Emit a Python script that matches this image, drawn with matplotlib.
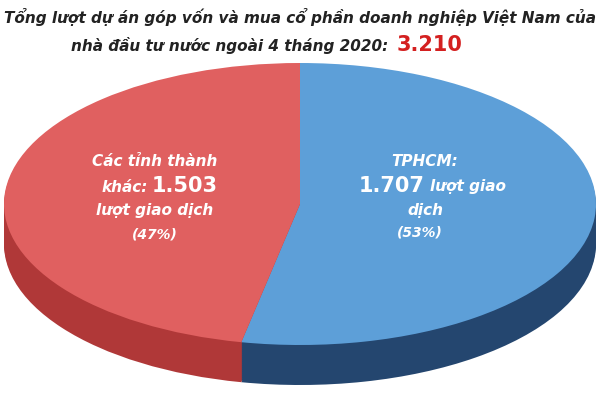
import matplotlib
matplotlib.use("Agg")
import matplotlib.pyplot as plt
from matplotlib.transforms import Affine2D

labels = ["TPHCM", "Các tỉnh thành khác"]
counts = [1707, 1503]
shares = [53, 47]
top_colors = ["#5d9fd8", "#e06060"]
side_colors = ["#24466f", "#b03838"]

fig = plt.figure(figsize=(6, 4), dpi=100)
ax = fig.add_axes([0, 0, 1, 1])

cx, cy, rx, ry, depth = 300, 196, 296, 141, 40

# side (depth) layers, then the top face
for off in list(range(depth, 0, -2)) + [0]:
    cols = top_colors if off == 0 else side_colors
    wedges, _ = ax.pie(counts, colors=cols, startangle=90, counterclock=False,
                       wedgeprops=dict(linewidth=0))
    tr = Affine2D().scale(rx, ry).translate(cx, cy - off) + ax.transData
    for w in wedges:
        w.set_transform(tr)
ax.set_xlim(0, 600)
ax.set_ylim(0, 400)
ax.set_aspect("auto")
ax.axis("off")

tkw = dict(color="white", fontweight="bold", style="italic", va="center")
ax.text(425, 238, "TPHCM:", fontsize=11, ha="center", **tkw)
ax.text(392, 214, f"{counts[0]/1000:.3f}", fontsize=15, ha="center",
        color="white", fontweight="bold", va="center")
ax.text(468, 213, "lượt giao", fontsize=11, ha="center", **tkw)
ax.text(425, 190, "dịch", fontsize=11, ha="center", **tkw)
ax.text(420, 167, f"({shares[0]}%)", fontsize=10, ha="center", **tkw)

ax.text(155, 238, "Các tỉnh thành", fontsize=11, ha="center", **tkw)
ax.text(148, 213, "khác:", fontsize=11, ha="right", **tkw)
ax.text(152, 214, f"{counts[1]/1000:.3f}", fontsize=15, ha="left",
        color="white", fontweight="bold", va="center")
ax.text(155, 189, "lượt giao dịch", fontsize=11, ha="center", **tkw)
ax.text(155, 166, f"({shares[1]}%)", fontsize=10, ha="center", **tkw)

ax.text(300, 383, "Tổng lượt dự án góp vốn và mua cổ phần doanh nghiệp Việt Nam của",
        fontsize=11, style="italic", fontweight="bold", color="#222222", ha="center", va="center")
ax.text(388, 354, "nhà đầu tư nước ngoài 4 tháng 2020:", fontsize=11, style="italic",
        fontweight="bold", color="#222222", ha="right", va="center")
ax.text(397, 355, f"{sum(counts)/1000:.3f}", fontsize=15, fontweight="bold",
        color="#d42020", ha="left", va="center")

fig.savefig("out.png", dpi=100)
